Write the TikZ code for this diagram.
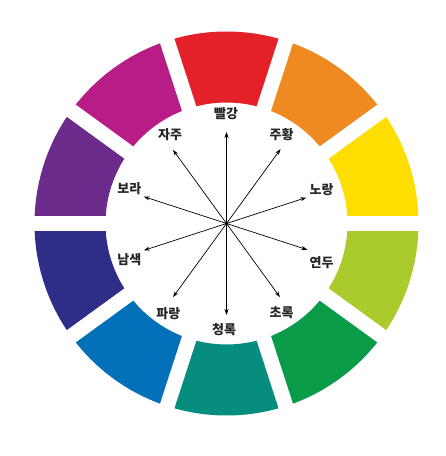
\documentclass[tikz,border=0pt]{standalone}
\usepackage{fontspec}
\newfontfamily\kr{Noto Sans CJK KR}
\usetikzlibrary{arrows.meta,calc}
\definecolor{cRed}{HTML}{E42129}
\definecolor{cOrange}{HTML}{EE8A21}
\definecolor{cYellow}{HTML}{FEDD00}
\definecolor{cLime}{HTML}{A9CB2B}
\definecolor{cGreen}{HTML}{0A9B48}
\definecolor{cTeal}{HTML}{078D7E}
\definecolor{cBlue}{HTML}{0470BA}
\definecolor{cIndigo}{HTML}{2E2D87}
\definecolor{cPurple}{HTML}{6C2B8B}
\definecolor{cMagenta}{HTML}{B71C87}
\definecolor{txt}{HTML}{262626}
\tikzset{
  lbl/.style={font=\kr\bfseries\fontsize{13}{15}\selectfont, text=txt, inner sep=0pt},
  arr/.style={-{Stealth[length=6pt,width=4pt]}, line width=0.7pt, black},
  gapline/.style={white, line width=15pt}
}
\begin{document}
\begin{tikzpicture}[x=1pt,y=1pt]
\useasboundingbox (0,0) rectangle (446,456);
\fill[white] (0,0) rectangle (446,456);
\coordinate (o) at (226.5,232.5);
% segments
\begin{scope}[shift={(o)}]
\foreach \k/\col in {0/cRed,1/cOrange,2/cYellow,3/cLime,4/cGreen,5/cTeal,6/cBlue,7/cIndigo,8/cPurple,9/cMagenta}{
  \pgfmathsetmacro{\a}{90-36*\k-18}
  \pgfmathsetmacro{\b}{90-36*\k+18}
  \fill[\col] (\a:192) arc[start angle=\a, end angle=\b, radius=192] -- (\b:121) arc[start angle=\b, end angle=\a, radius=121] -- cycle;
}
\foreach \t in {0,36,...,324}{
  \draw[gapline] (0,0) -- (\t:205);
}
\end{scope}
% arrow tips
\coordinate (t1) at ($(o)+(90:91.5)$);
\coordinate (t2) at ($(o)+(54:92)$);
\coordinate (t3) at ($(o)+(18:84)$);
\coordinate (t4) at ($(o)+(-18:85)$);
\coordinate (t5) at ($(o)+(-54:91)$);
\coordinate (t6) at ($(o)+(-90:91.5)$);
\coordinate (t7) at ($(o)+(-126:91)$);
\coordinate (t8) at ($(o)+(198:87)$);
\coordinate (t9) at ($(o)+(162:87)$);
\coordinate (t10) at ($(o)+(126:91)$);
\foreach \i in {1,...,10}{
  \draw[arr] (o) -- (t\i);
}
\fill[black] (o) circle (1.6);
% labels
\node[lbl] (l1) at (226,342.7) {빨강};
\node[lbl] (l2) at (281.7,321) {주황};
\node[lbl] (l3) at (321.7,266.7) {노랑};
\node[lbl] (l4) at (321.7,193.3) {연두};
\node[lbl] (l5) at (281.7,143.3) {초록};
\node[lbl] (l6) at (224,126.7) {청록};
\node[lbl] (l7) at (168.3,142.7) {파랑};
\node[lbl] (l8) at (129.3,196) {남색};
\node[lbl] (l9) at (129.3,267.7) {보라};
\node[lbl] (l10) at (170,321) {자주};
\end{tikzpicture}
\end{document}
